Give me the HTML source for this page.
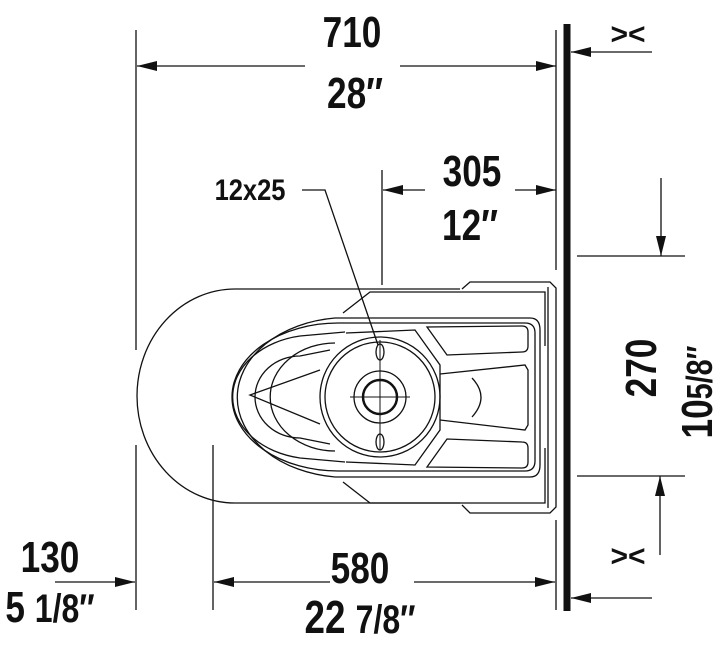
<!DOCTYPE html>
<html><head><style>
html,body{margin:0;padding:0;background:#fff}
svg{display:block}
text{font-family:"Liberation Sans",sans-serif;font-weight:bold;fill:#111}
</style></head><body>
<svg width="726" height="647" viewBox="0 0 726 647" xmlns="http://www.w3.org/2000/svg">
<defs>
<marker id="a" markerWidth="20" markerHeight="10" refX="20" refY="5" orient="auto" markerUnits="userSpaceOnUse"><path d="M0,0 L20,5 L0,10 Z" fill="#111"/></marker>
</defs>
<g stroke="#111" stroke-width="1.3" fill="none">
<line x1="567" y1="24" x2="567" y2="611" stroke-width="7"/>
<line x1="136" y1="30" x2="136" y2="350"/>
<line x1="136" y1="445" x2="136" y2="610"/>
<line x1="556" y1="30" x2="556" y2="270"/>
<line x1="556" y1="520" x2="556" y2="610"/>
<line x1="382" y1="170" x2="382" y2="285"/>
<line x1="213" y1="445" x2="213" y2="610"/>
<line x1="577" y1="256" x2="685" y2="256"/>
<line x1="577" y1="476" x2="685" y2="476"/>
<line x1="305" y1="66" x2="137" y2="66" marker-end="url(#a)"/>
<line x1="400" y1="66" x2="556" y2="66" marker-end="url(#a)"/>
<line x1="425" y1="190" x2="383" y2="190" marker-end="url(#a)"/>
<line x1="515" y1="190" x2="556" y2="190" marker-end="url(#a)"/>
<line x1="330" y1="582" x2="214" y2="582" marker-end="url(#a)"/>
<line x1="414" y1="582" x2="555" y2="582" marker-end="url(#a)"/>
<line x1="55" y1="582" x2="135" y2="582" marker-end="url(#a)"/>
<line x1="652" y1="52" x2="571" y2="52" marker-end="url(#a)"/>
<line x1="652" y1="598" x2="571" y2="598" marker-end="url(#a)"/>
<line x1="661" y1="178" x2="661" y2="256" marker-end="url(#a)"/>
<line x1="660" y1="555" x2="660" y2="476" marker-end="url(#a)"/>
<polyline points="302,190 325,190 378,345"/>
<path d="M460,289 L235,289 A98,107 0 0 0 235,503 L460,503"/>
<path d="M462,289 L470,282 L550,282 L556,288 L556,507 L550,513 L470,513 L462,505"/>
<line x1="548" y1="287" x2="548" y2="508"/>
<path d="M343,313 L370,292 L545,292 L545,346"/>
<path d="M343,482 L370,503 L545,503 L545,448"/>
<path d="M530,318 L335,318 A110,80 0 0 0 335,477 L530,477 Q540,477 540,465 L540,330 Q540,318 530,318 Z"/>
<path d="M525,323 L338,323 A106,74 0 0 0 338,471 L525,471 Q535,471 535,461 L535,333 Q535,323 525,323 Z"/>
<path d="M345,332 L300,336 A82,62 0 0 0 300,458 L345,462"/>
<path d="M335,343 A60,50 0 0 0 335,451"/>
<path d="M330,350 L300,356 A45,41 0 0 0 300,438 L330,444"/>
<path d="M320,370 L250,395 L320,424"/>
<path d="M427,327 L447,355 L522,352 Q528,352 528,346 L528,332 Q528,326 522,326 Z"/>
<path d="M427,467 L447,439 L522,442 Q528,442 528,448 L528,462 Q528,468 522,468 Z"/>
<path d="M440,374 L525,365 L528,370 L528,425 L525,430 L440,420"/>
<path d="M472,378 Q490,397 472,417"/>
<path d="M346,333 L415,330 L440,365 L440,430 L415,465 L346,462"/>
<circle cx="380" cy="397" r="60"/>
<circle cx="380" cy="397" r="55"/>
<circle cx="380" cy="397" r="26"/>
<circle cx="380" cy="397" r="17" stroke-width="2.5"/>
<line x1="350" y1="397" x2="410" y2="397" stroke-width="1"/>
<line x1="380" y1="340" x2="380" y2="450" stroke-width="1"/>
<ellipse cx="380" cy="352" rx="4" ry="8"/>
<ellipse cx="380" cy="442" rx="4" ry="8"/>
</g>
<g transform="translate(352,47) scale(0.8,1)"><text font-size="44" text-anchor="middle">710</text></g>
<g transform="translate(355,108) scale(0.8,1)"><text font-size="44" text-anchor="middle">28″</text></g>
<g transform="translate(472,186) scale(0.8,1)"><text font-size="44" text-anchor="middle">305</text></g>
<g transform="translate(470,240) scale(0.8,1)"><text font-size="44" text-anchor="middle">12″</text></g>
<g transform="translate(250,200) scale(0.85,1)"><text font-size="30" text-anchor="middle">12x25</text></g>
<g transform="translate(360,583) scale(0.8,1)"><text font-size="44" text-anchor="middle">580</text></g>
<g transform="translate(360,633) scale(0.8,1)"><text font-size="46" text-anchor="middle">22 <tspan font-size="40">7/8″</tspan></text></g>
<g transform="translate(50,572) scale(0.8,1)"><text font-size="44" text-anchor="middle">130</text></g>
<g transform="translate(50,622) scale(0.8,1)"><text font-size="44" text-anchor="middle">5 <tspan font-size="40">1/8″</tspan></text></g>
<text x="628" y="44" font-size="30" text-anchor="middle">&gt;&lt;</text>
<text x="628" y="566" font-size="30" text-anchor="middle">&gt;&lt;</text>
<g transform="translate(656,368) rotate(-90) scale(0.8,1)"><text font-size="44" text-anchor="middle">270</text></g>
<g transform="translate(712,392) rotate(-90) scale(0.8,1)"><text font-size="44" text-anchor="middle">10<tspan font-size="36">5/8″</tspan></text></g>
</svg>
</body></html>
